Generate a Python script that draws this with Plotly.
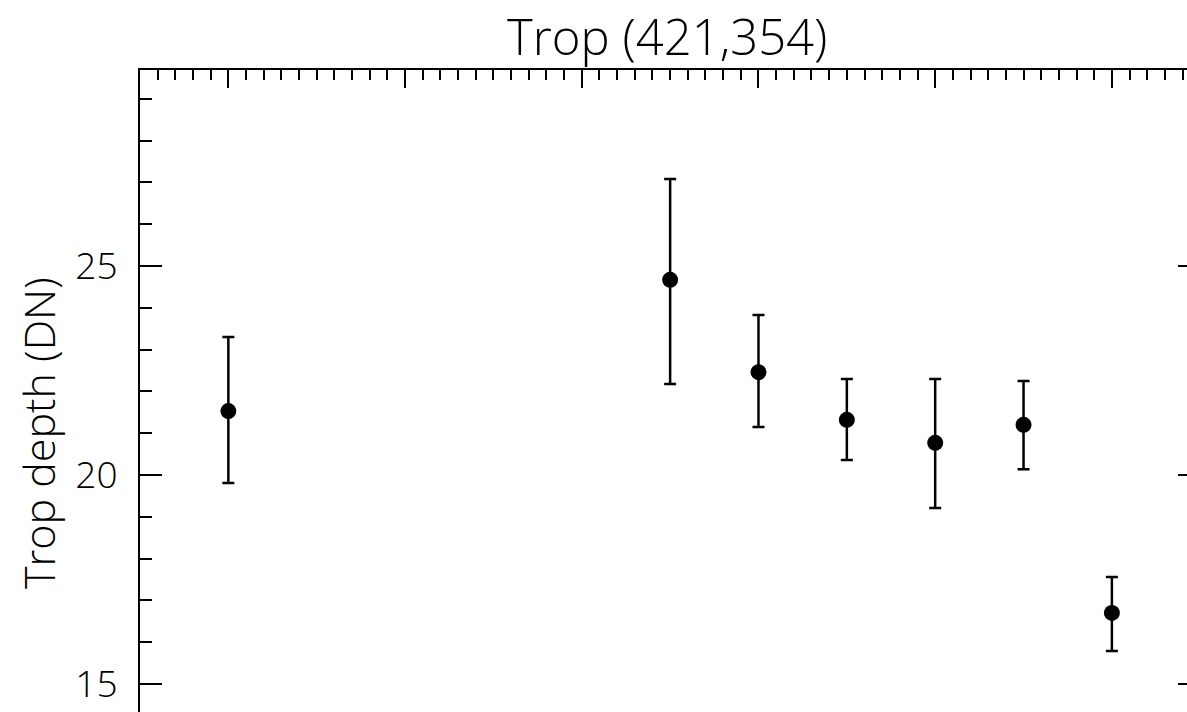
import plotly.graph_objects as go

# Data
x_vals = [1.0, 3.5, 4.0, 4.5, 5.0, 5.5, 6.0]
depth = [21.53, 24.67, 22.46, 21.32, 20.77, 21.20, 16.70]
err_upper = [23.30, 27.08, 23.83, 22.30, 22.30, 22.25, 17.56]
err_lower = [19.81, 22.18, 21.15, 20.36, 19.21, 20.14, 15.79]

title_text = "Trop (421,354)"
ytitle_text = "Trop depth (DN)"
y_ticks = [15, 20, 25]

plus = [u - d for u, d in zip(err_upper, depth)]
minus = [d - l for d, l in zip(depth, err_lower)]

FONT = "Open Sans"
W, H = 1187, 712
L, T = 140, 70
plot_w = W - L
plot_h = H - T

fig = go.Figure()
fig.add_trace(go.Scatter(
    x=x_vals, y=depth, mode="markers",
    marker=dict(symbol="circle", size=16, color="black"),
    error_y=dict(type="data", symmetric=False, array=plus, arrayminus=minus,
                 color="black", thickness=2.5, width=6),
    showlegend=False, hoverinfo="skip",
))

y_range = [14.33, 29.69]
x_range = [0.5, 6.425]

fig.update_layout(
    width=W, height=H,
    margin=dict(l=L, r=0, t=T, b=0, pad=0),
    paper_bgcolor="white", plot_bgcolor="white",
    font=dict(family=FONT, color="black", weight=300),
    xaxis=dict(
        range=x_range, side="top", showline=True, linecolor="black", linewidth=2,
        ticks="inside", ticklen=18, tickwidth=2, tickcolor="black", dtick=1, tick0=0,
        showticklabels=False, showgrid=False, zeroline=False, mirror=False,
        minor=dict(ticks="inside", ticklen=10, tickwidth=2, tickcolor="black", dtick=0.1, showgrid=False),
    ),
    yaxis=dict(
        range=y_range, showline=True, linecolor="black", linewidth=2,
        ticks="inside", ticklen=22, tickwidth=2, tickcolor="black",
        tickmode="array", tickvals=y_ticks, ticktext=[str(v) for v in y_ticks],
        tickfont=dict(family=FONT, size=37, color="black", weight=300),
        ticklabelstandoff=13,
        showgrid=False, zeroline=False, mirror=False,
        minor=dict(ticks="inside", ticklen=12, tickwidth=2, tickcolor="black", dtick=1, showgrid=False),
    ),
    yaxis2=dict(
        range=y_range, overlaying="y", side="right", showline=False,
        ticks="inside", ticklen=9, tickwidth=2, tickcolor="black",
        tickmode="array", tickvals=y_ticks, showticklabels=False,
        showgrid=False, zeroline=False,
    ),
    annotations=[
        dict(text=title_text, xref="paper", yref="paper",
             x=(667 - L) / plot_w, y=1 + (T - 36) / plot_h,
             xanchor="center", yanchor="middle", showarrow=False,
             font=dict(family=FONT, size=49, color="black", weight=300)),
        dict(text=ytitle_text, xref="paper", yref="paper",
             x=(38 - L) / plot_w, y=(H - 433) / plot_h,
             xanchor="center", yanchor="middle", showarrow=False, textangle=-90,
             font=dict(family=FONT, size=43, color="black", weight=300)),
    ],
)

fig.add_trace(go.Scatter(x=[x_range[0]], y=[y_range[0]], yaxis="y2", mode="markers",
                         marker=dict(opacity=0), showlegend=False, hoverinfo="skip"))

fig.write_html("out.html")
